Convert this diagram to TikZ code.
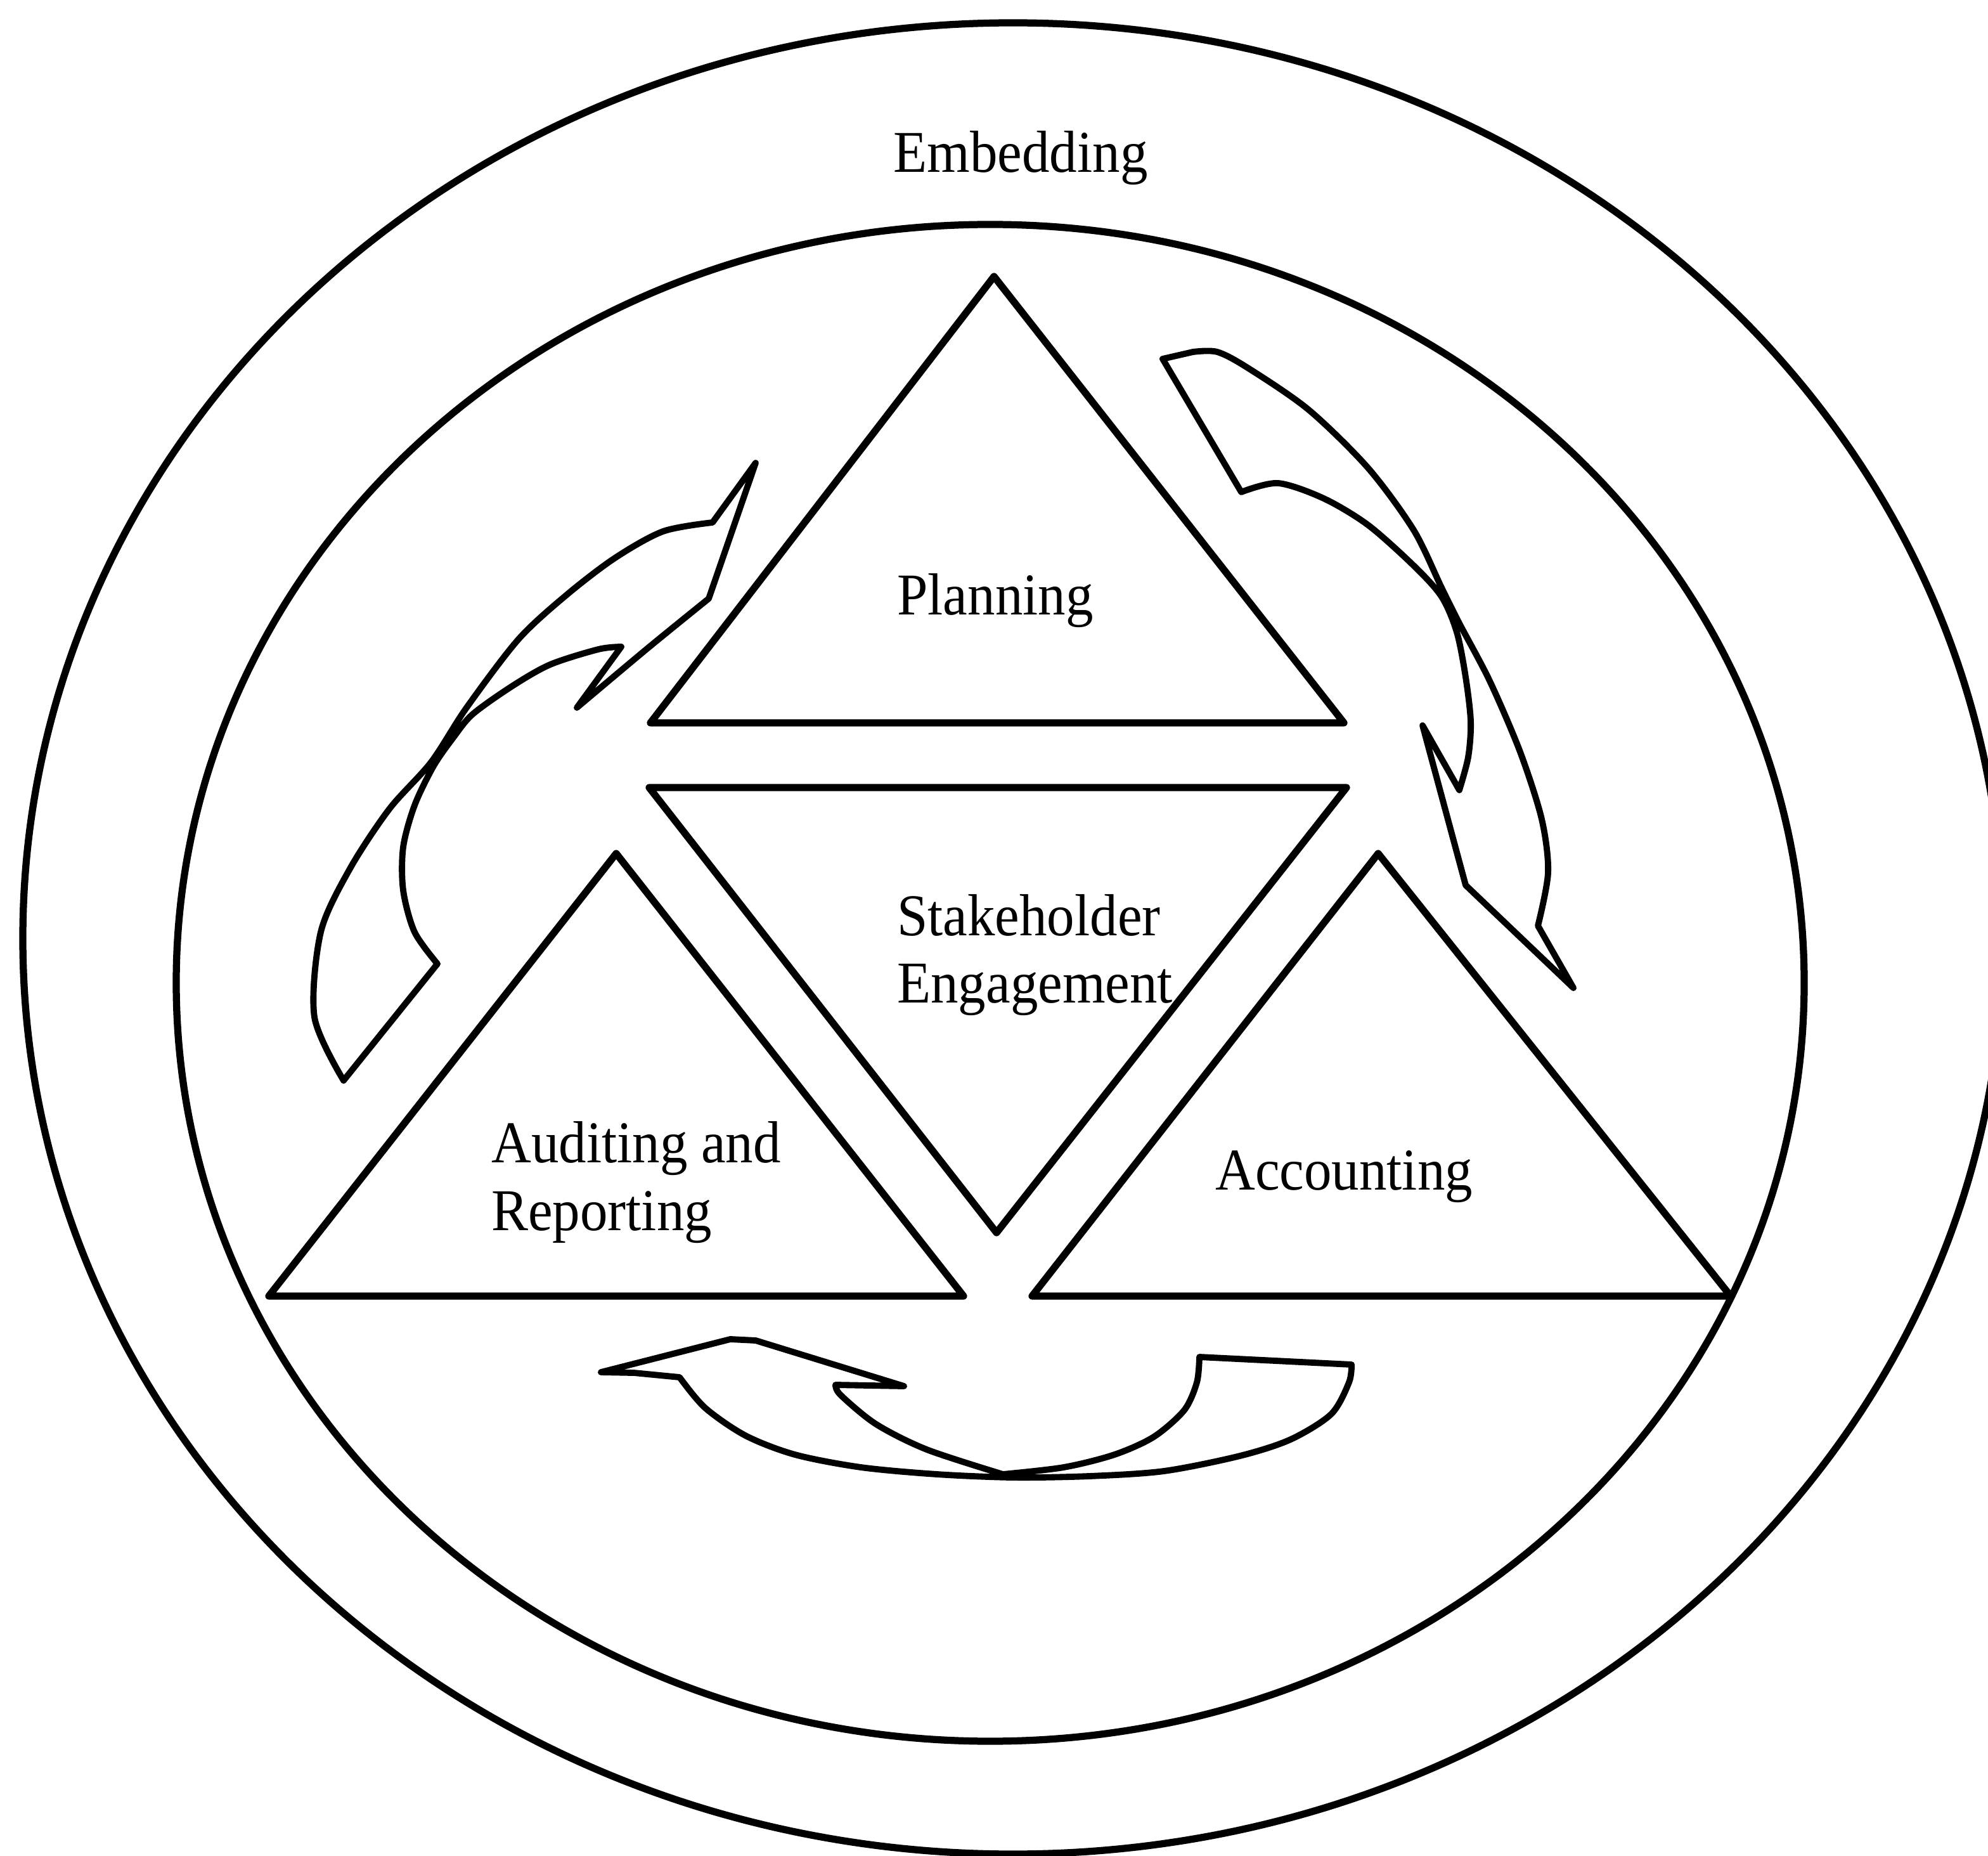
\documentclass[tikz,border=0pt]{standalone}
\usepackage{fontspec}
\setmainfont{Liberation Serif}
\tikzset{
    ring/.style={draw=black, line width=1.6pt},
    tri/.style={draw=black, line width=1.6pt, line join=round},
    swoosh/.style={draw=black, line width=1.4pt, line join=round},
    lbl/.style={font=\fontsize{13.3}{15.2}\selectfont, xscale=0.93, inner sep=0pt, align=left}
}

\begin{document}
\begin{tikzpicture}
    \useasboundingbox (0,0) rectangle (15.68,14.63);
    \draw[ring] (7.99,7.23) ellipse (7.81 and 7.22);
    \draw[ring] (7.81,6.88) ellipse (6.42 and 5.98);
    \node[lbl, anchor=base] (embed) at (8.05,13.27) {Embedding};

    \draw[tri] (7.84,12.45) -- (5.13,8.93) -- (10.60,8.93) -- cycle;
    \draw[tri] (5.12,8.42) -- (10.62,8.42) -- (7.86,4.91) -- cycle;
    \draw[tri] (4.86,7.90) -- (2.12,4.41) -- (7.60,4.41) -- cycle;
    \draw[tri] (10.87,7.90) -- (8.14,4.41) -- (13.65,4.41) -- cycle;

    \node[lbl, anchor=base] (plan) at (7.85,9.78) {Planning};
    \node[lbl, anchor=base west] (stake) at (7.07,6.72) {Stakeholder\\Engagement};
    \node[lbl, anchor=base west] (audit) at (3.87,4.93) {Auditing and\\Reporting};
    \node[lbl, anchor=base west] (acct) at (9.58,5.25) {Accounting};

    \draw[swoosh] plot[smooth] coordinates {(3.45,7.03) (3.27,7.28) (3.18,7.61) (3.18,7.95) (3.27,8.28) (3.42,8.59) (3.58,8.82) (3.73,9.00) (4.04,9.22) (4.34,9.39) (4.72,9.51) (4.90,9.53)}
        -- (4.55,9.05) -- plot[smooth] coordinates {(4.55,9.05) (5.11,9.52) (5.59,9.91)}
        -- (5.96,10.98) -- (5.62,10.51)
        -- plot[smooth] coordinates {(5.62,10.51) (5.23,10.44) (4.85,10.23) (4.47,9.94) (4.09,9.59) (3.68,9.05) (3.40,8.62) (3.07,8.25) (2.76,7.78) (2.53,7.28) (2.48,6.61) (2.71,6.11)}
        -- cycle;

    \draw[swoosh] (9.17,11.80) -- plot[smooth] coordinates {(9.41,11.855) (9.60,11.855) (9.84,11.73) (10.32,11.40) (10.79,10.94) (11.15,10.45) (11.37,9.996) (11.51,9.715) (11.75,9.26) (11.99,8.70) (12.16,8.17) (12.21,7.75) (12.13,7.33)}
        -- (12.41,6.84) -- (11.56,7.65) -- (11.22,8.91) -- (11.51,8.40)
        -- plot[smooth] coordinates {(11.51,8.40) (11.58,8.66) (11.60,8.94) (11.56,9.29) (11.49,9.645) (11.37,9.925) (11.15,10.17) (10.79,10.49) (10.44,10.70) (10.08,10.82) (9.79,10.75)}
        -- cycle;

    \draw[swoosh] (9.46,3.93) -- (10.66,3.87)
        -- plot[smooth] coordinates {(10.66,3.87) (10.64,3.73) (10.50,3.48) (10.18,3.28) (9.78,3.15) (9.18,3.03) (8.59,2.99) (7.99,2.98) (7.39,3.005) (6.79,3.06) (6.27,3.16) (5.88,3.31) (5.56,3.53) (5.36,3.77)}
        -- (5.00,3.805) -- (4.74,3.81) -- (5.76,4.07) -- (5.96,4.06) -- (7.13,3.70) -- (6.59,3.71)
        -- plot[smooth] coordinates {(6.59,3.71) (6.63,3.63) (6.91,3.40) (7.31,3.20) (7.91,3.005)}
        -- plot[smooth] coordinates {(7.91,3.005) (8.39,3.06) (8.79,3.16) (9.10,3.30) (9.34,3.51) (9.44,3.73) (9.46,3.93)}
        -- cycle;
\end{tikzpicture}
\end{document}
